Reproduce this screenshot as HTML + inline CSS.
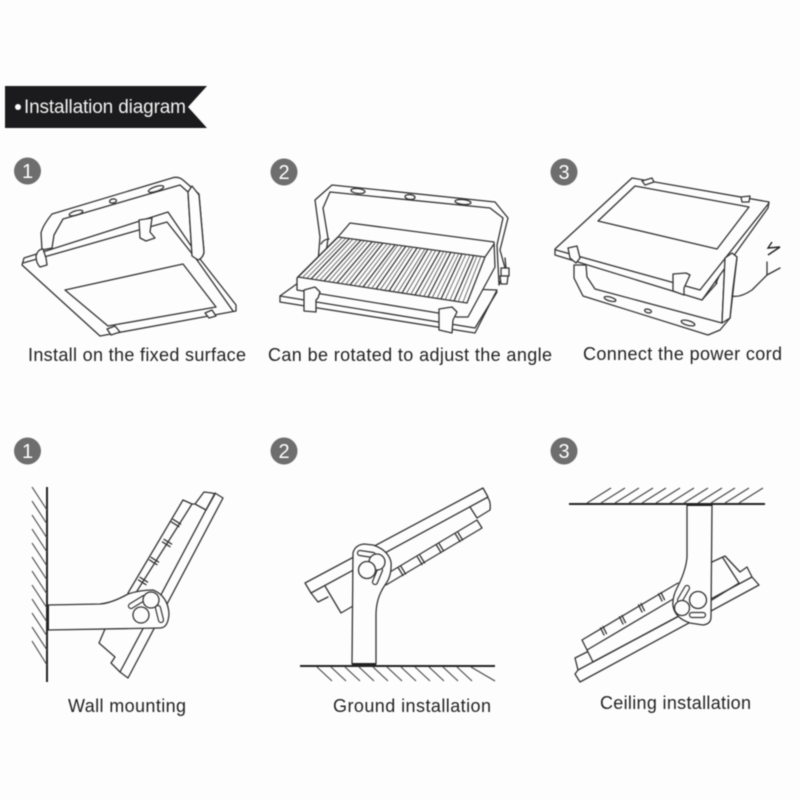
<!DOCTYPE html>
<html>
<head>
<meta charset="utf-8">
<style>
html,body{margin:0;padding:0;background:#fdfdfd;width:800px;height:800px;overflow:hidden}
svg{display:block;filter:blur(0.4px)}
.l{fill:none;stroke:#333;stroke-width:1.3;stroke-linejoin:round;stroke-linecap:round}
.f{fill:#fdfdfd;stroke:#333;stroke-width:1.3;stroke-linejoin:round;stroke-linecap:round}
.t{font-family:"Liberation Sans",sans-serif;font-size:18px;fill:#222}
.n{font-family:"Liberation Sans",sans-serif;font-size:20px;fill:#fff;text-anchor:middle}
.h{fill:none;stroke:#444;stroke-width:1.1}
.fin{fill:none;stroke:#555;stroke-width:.85}
.fin2{fill:none;stroke:#333;stroke-width:1.2}
.g{fill:none;stroke:#222;stroke-width:2}
.s1{fill:none;stroke:#333;stroke-width:6.2;stroke-linecap:round}
.s2{fill:none;stroke:#fdfdfd;stroke-width:3.8;stroke-linecap:round}
</style>
</head>
<body>
<svg width="800" height="800" viewBox="0 0 800 800" xmlns="http://www.w3.org/2000/svg">
<rect width="800" height="800" fill="#fdfdfd"/>

<!-- banner -->
<polygon points="5,86 207,86 188,107 207,128 5,128" fill="#1b1b1d"/>
<circle cx="18" cy="107" r="3" fill="#fff"/>
<text x="24" y="113" font-family="Liberation Sans,sans-serif" font-size="19" fill="#f2f2f2" textLength="162" lengthAdjust="spacing">Installation diagram</text>

<!-- badges -->
<g fill="#6e6e6e">
<circle cx="27.5" cy="171" r="13.5"/><circle cx="284" cy="172" r="13.5"/><circle cx="564" cy="172" r="13.5"/>
<circle cx="27.5" cy="451" r="13.5"/><circle cx="284" cy="451" r="13.5"/><circle cx="564" cy="451" r="13.5"/>
</g>
<text class="n" x="27.5" y="178">1</text><text class="n" x="284" y="179">2</text><text class="n" x="564" y="179">3</text>
<text class="n" x="27.5" y="458">1</text><text class="n" x="284" y="458">2</text><text class="n" x="564" y="458">3</text>

<!-- lamp 1 -->
<g>
<path class="f" d="M42,250 L41,233 Q43,225 52,214 L172,178 Q178,176 183,180 L199,194 L204,252 Q203,258 198,260 L192,256 L188,192 L180,185 L63,219 L54,235 L52,248 Z"/>
<ellipse class="l" cx="76" cy="213" rx="7" ry="2.2" transform="rotate(-16 76 213)"/>
<ellipse class="l" cx="156" cy="189" rx="8" ry="2.4" transform="rotate(-18 156 189)"/>
<ellipse class="l" cx="113" cy="201" rx="3.5" ry="2" transform="rotate(-10 113 201)"/>
<path class="f" d="M22,265 L24,258 L168,212 L200,259 L236,305 L236,311 L100,336 Z"/>
<path class="l" d="M23,263 L167,222 L197,260 L233,311"/>
<path class="f" d="M65,290 L183,264 L216,307 L108,326 Z"/>
<path class="f" d="M107,329 L115,326 L120,332 L111,335 Z"/>
<path class="f" d="M205,313 L212,310 L216,316 L209,318 Z"/>
<path class="f" d="M36,256 Q38,249 43,249 L46,258 L47,265 L40,267 Q36,263 36,256 Z"/>
<path class="f" d="M139,220 L152,218 L150,232 L155,238 L146,241 L140,238 Z"/>
<path class="f" d="M192,186 L199,195 L204,252 Q203,258 198,260 L192,256 L188,192 Z"/>
</g>

<!-- lamp 2 -->
<g>
<path class="f" d="M318,262 L320,237 L315,200 L332,185 L495,202 L508,218 L500,250 L505,268 L499,285 L497,245 L503,218 L490,208 L330,192 L323,208 L328,238 L325,262 Z"/>
<ellipse class="l" cx="358" cy="191" rx="7" ry="2.4" transform="rotate(6 358 191)"/>
<ellipse class="l" cx="410" cy="197" rx="5" ry="2.4" transform="rotate(6 410 197)"/>
<ellipse class="l" cx="463" cy="202" rx="8" ry="2.4" transform="rotate(6 463 202)"/>
<path class="f" d="M280,296 L298,283 L497,290 L475,333 L280,302 Z"/>
<path class="l" d="M280,296 L475,328 L497,292"/>
<path class="f" d="M297,278 L297,290 L438,313 L457,317 L468,317 L495,267 L494,242 L350,223 L338,237 Z"/>
<path class="l" d="M338,237 L485,257 L467,303 L298,277 Z M485,257 L494,244"/>
<path class="fin" d="M342,238L302,278M346,238L307,278M349,239L311,279M353,239L315,280M357,240L320,280M361,240L324,281M364,241L328,282M368,241L333,282M372,242L337,283M376,242L341,284M379,243L346,284M383,243L350,285M387,244L354,286M391,244L359,286M395,245L363,287M398,245L367,288M402,246L372,288M406,246L376,289M410,247L380,290M413,247L385,290M417,248L389,291M421,248L393,292M425,249L398,292M428,249L402,293M432,250L406,294M436,250L411,294M440,251L415,295M444,251L419,296M447,252L424,296M451,252L428,297M455,253L432,298M459,253L437,298M462,254L441,299M466,254L445,300M470,255L450,300M474,255L454,301M477,256L458,302M481,256L463,302"/>
<path class="fin2" d="M349,239L311,279M361,240L324,281M372,242L337,283M383,243L350,285M395,245L363,287M406,246L376,289M417,248L389,291M428,249L402,293M440,251L415,295M451,252L428,297M462,254L441,299M474,255L454,301"/>
<path class="f" d="M304,290 L315,287 L320,292 L318,298 L316,300 L316,312 L304,311 Z"/>
<path class="f" d="M439,309 L452,307 L457,312 L453,320 L452,333 L439,330 Z"/>
<path class="f" d="M501,268 L509,268 L509,276 L501,276 Z"/>
<path class="f" d="M500,276 L508,276 L507,284 L501,284 Z"/>
<path class="l" d="M505,258 L506,268 M321,244 Q324,239 329,239"/>
</g>

<!-- lamp 3 -->
<g>
<path class="f" d="M574,265 L574,278 L583,296 L708,335 L720,330 L730,318 L737,257 L732,253 L725,258 L722,323 L595,289 L587,277 L586,265 Z"/>
<ellipse class="l" cx="610" cy="299" rx="6" ry="2" transform="rotate(16 610 299)"/>
<ellipse class="l" cx="648" cy="311" rx="3.5" ry="1.8" transform="rotate(14 648 311)"/>
<ellipse class="l" cx="688" cy="323" rx="7" ry="2.3" transform="rotate(15 688 323)"/>
<path class="l" d="M702,300 L717,283 M716,283 L725,263"/>
<path class="f" d="M555,249 L632,178 L769,202 L768,208 L702,300 L555,255 Z"/>
<path class="l" d="M556,250 L700,290 L769,203"/>
<path class="f" d="M598,221 L635,186 L749,207 L717,249 Z"/>
<path class="f" d="M642,181 L652,178 L654,182 L645,185 Z"/>
<path class="f" d="M741,197 L750,196 L749,202 L742,202 Z"/>
<path class="f" d="M568,248 L577,246 L580,258 L576,263 L570,258 Z"/>
<path class="f" d="M673,274 L686,273 L690,275 L684,288 L684,295 L673,291 Z"/>
<path class="f" d="M725,258 L732,253 L737,257 L733,288 L730,318 L722,323 Z"/>
<path class="l" d="M732,296 Q740,298 752,290 L767,275 L767,262 M767,275 L780,268"/>
<path d="M772,242 L768,248 L780,247 L768,255" fill="none" stroke="#222" stroke-width="1.4"/>
</g>

<!-- wall mounting -->
<g>
<path class="g" d="M47,487 L47,682"/>
<path class="h" d="M32,487L47,510M32,501L47,524M32,515L47,538M32,529L47,552M32,543L47,566M32,557L47,580M32,571L47,594M32,585L47,608M32,599L47,622M32,613L47,636M32,627L47,650M32,641L47,665"/>
<path class="f" d="M120,672 L215,493 L223,498 L128,678 Z"/>
<path class="l" d="M204,492 L212,493 L215,494 L206,510 L195,504 Z M183,500 L192,504 L195,504"/>
<path class="l" d="M183,500 L128,593 M192,504 L137,591"/>
<path class="l" d="M173,519.3L180.6,524.1M171.4,521.9L179,526.7M164,539.3L171.6,544.1M162.4,541.9L170,546.7M151,557.3L158.6,562.1M149.4,559.9L157,564.7M140,577.3L147.6,582.1M138.4,579.9L146,584.7"/>
<path class="l" d="M105,629 L99,643 L115,657 L111,663 L120,672"/>
<path class="f" d="M48,605 L100,604 Q112,603 128,594 Q140,590 153,590 Q168,596 169,614 Q168,628 160,628 L48,630 Z"/>
<path class="g" d="M48,605 L48,630"/>
<path class="s1" d="M131,606 L144,598 M158,608 L161,620"/><path class="s2" d="M131,606 L144,598 M158,608 L161,620"/>
<circle class="f" cx="151" cy="600" r="8"/>
<circle class="f" cx="141" cy="615" r="8"/>
</g>

<!-- ground installation -->
<g>
<path class="g" d="M300,666 L495,666"/>
<path class="h" d="M317,667L332,681M331,667L346,681M345,667L360,681M359,667L374,681M373,667L388,681M387,667L402,681M401,667L416,681M415,667L430,681M429,667L444,681M443,667L458,681M457,667L472,681M471,667L495,681"/>
<path class="f" d="M305,583 L483,488 L488,497 L311,593 Z"/>
<path class="l" d="M470,507 L477,518 L490,510 Q491,502 488,498"/>
<path class="l" d="M477,520 L482,528 L386,585 M477,520 L390,572"/>
<path class="l" d="M401,566.4L405.6,574M398.4,568L403,575.6M420,555.4L424.6,563M417.4,557L422,564.6M439,543.4L443.6,551M436.4,545L441,552.6M458,532.4L462.6,540M455.4,534L460,541.6"/>
<path class="l" d="M311,593 L318,602 L328,597 M325,586 L341,613 L353,606"/>
<path class="f" d="M352,664 L353,553 Q355,545 364,544 L373,545 Q388,550 391,562 Q392,576 385,585 Q376,598 376,615 L376,664 Z"/>
<path class="g" d="M352,664 L376,664"/>
<path class="s1" d="M360,553 L373,555 M380,570 L375,582"/><path class="s2" d="M360,553 L373,555 M380,570 L375,582"/>
<circle class="f" cx="377" cy="562" r="8"/>
<circle class="f" cx="367" cy="570" r="8.5"/>
</g>

<!-- ceiling installation -->
<g>
<path class="g" d="M569,504 L765,504"/>
<path class="h" d="M587,503L611,488M601,503L625,488M615,503L639,488M629,503L653,488M642,503L666,488M656,503L680,488M670,503L694,488M684,503L708,488M698,503L722,488M711,503L735,488M725,503L749,488M739,503L763,488"/>
<path class="f" d="M575,674 L578,670 L752,577 L759,585 L580,682 Z"/>
<path class="l" d="M712,562 L725,556 L740,572 L747,567 L752,577 M723,558 L739,583 L712,600"/>
<path class="l" d="M582,640 L678,583 M587,650 L675,598 M582,640 L593,662 L677,617 M587,652 L575,658 L578,670"/>
<path class="l" d="M600.5,627.8L604,635M603,626.5L606.5,633.7M619.5,616.8L623,624M622,615.5L625.5,622.7M638.5,604.8L642,612M641,603.5L644.5,610.7M658.5,593.8L662,601M661,592.5L664.5,599.7"/>
<path class="f" d="M687,505 L687,557 Q686,570 678,586 Q672,597 673,606 Q675,618 690,623 L703,625 Q711,624 711,617 L712,505 Z"/>
<path class="g" d="M687,505 L712,505"/>
<path class="s1" d="M687,588 L680,600 M692,615 L703,615"/><path class="s2" d="M687,588 L680,600 M692,615 L703,615"/>
<circle class="f" cx="698" cy="600" r="8.5"/>
<circle class="f" cx="682" cy="608" r="7.5"/>
</g>

<!-- labels -->
<text class="t" x="28" y="361" textLength="218" lengthAdjust="spacing">Install on the fixed surface</text>
<text class="t" x="268" y="361" textLength="284" lengthAdjust="spacing">Can be rotated to adjust the angle</text>
<text class="t" x="583" y="360" textLength="199" lengthAdjust="spacing">Connect the power cord</text>
<text class="t" x="68" y="712" textLength="118" lengthAdjust="spacing">Wall mounting</text>
<text class="t" x="333" y="712" textLength="158" lengthAdjust="spacing">Ground installation</text>
<text class="t" x="600" y="709" textLength="151" lengthAdjust="spacing">Ceiling installation</text>
</svg>
</body>
</html>
